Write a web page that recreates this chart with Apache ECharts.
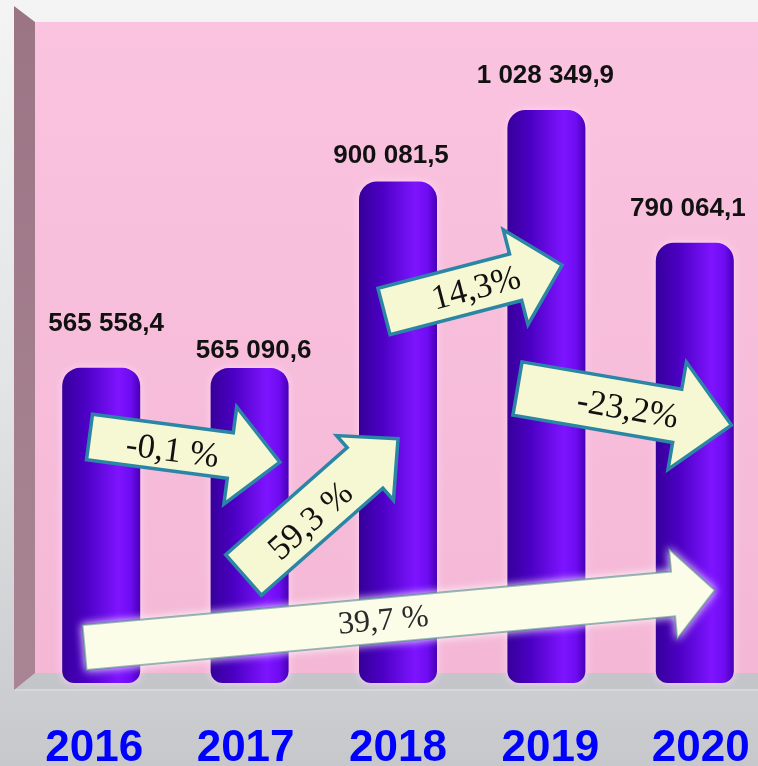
<!DOCTYPE html>
<html><head><meta charset="utf-8">
<script src="https://cdn.jsdelivr.net/npm/echarts@6/dist/echarts.min.js"></script>
<style>html,body{margin:0;padding:0;background:#eee;} #c{width:758px;height:766px;}</style>
</head><body><div id="c"></div>
<script>
// ---- data ----
const years = ['2016', '2017', '2018', '2019', '2020'];
const values = [565558.4, 565090.6, 900081.5, 1028349.9, 790064.1];
const valueLabels = ['565 558,4', '565 090,6', '900 081,5', '1 028 349,9', '790 064,1'];
const growthLabels = ['-0,1 %', '59,3 %', '14,3%', '-23,2%', '39,7 %'];

// ---- layout / style (not data) ----
const labelOffsets = [[5, -31], [4, -4], [-7, -13], [-1, -21], [-7, -21]];
const yearShift = [-7, -4, 0, 4, 6];
// arrows: tail centre, visual angle (deg, ccw), length, shaft width, head width, head length, text local pos
const arrows = [
  {x: 89.5, y: 437, a: -7.5, L: 192, w: 46, H: 98, h: 50, tx: 84, ty: 4, soft: false},
  {x: 243.5, y: 575, a: 41.4, L: 206, w: 54, H: 86, h: 44, tx: 86, ty: 5, soft: false},
  {x: 384, y: 311.5, a: 14.6, L: 184, w: 48, H: 98, h: 48, tx: 95, ty: 2, soft: false},
  {x: 517.5, y: 388.5, a: -9.7, L: 217, w: 54, H: 109, h: 55, tx: 112, ty: 3, soft: false},
  {x: 84.5, y: 647.5, a: 5.2, L: 633, w: 45, H: 90, h: 42, tx: 300, ty: 1, soft: true}
];

const chart = echarts.init(document.getElementById('c'), null, {renderer: 'canvas'});

const bgGraphics = [
  {type: 'rect', z: -10, shape: {x: 0, y: 0, width: 758, height: 766},
    style: {fill: {type: 'linear', x: 0, y: 0, x2: 0, y2: 1, colorStops: [
      {offset: 0, color: '#f4f4f4'}, {offset: 0.5, color: '#e2e4e5'}, {offset: 1, color: '#c6c8cb'}]}}},
  {type: 'rect', z: -9, shape: {x: 35, y: 22, width: 723, height: 651},
    style: {fill: {type: 'linear', x: 0, y: 0, x2: 0, y2: 1, colorStops: [
      {offset: 0, color: '#fac3df'}, {offset: 1, color: '#f4b8d6'}]}}},
  {type: 'rect', z: -9, shape: {x: 14, y: 673, width: 744, height: 17},
    style: {fill: '#c3c5c9'}},
  {type: 'line', z: -8, shape: {x1: 14, y1: 690, x2: 758, y2: 690},
    style: {stroke: '#d6d7da', lineWidth: 2}},
  {type: 'polygon', z: -8, shape: {points: [[14, 6], [35, 22], [35, 673], [14, 690]]},
    style: {fill: {type: 'linear', x: 0, y: 0, x2: 0, y2: 1, colorStops: [
      {offset: 0, color: '#9c7585'}, {offset: 1, color: '#a98593'}]}}}
];

function arrowGraphic(ar, i) {
  const hw = ar.w / 2, hh = ar.H / 2, b = ar.L - ar.h;
  const pts = [[0, -hw], [b, -hw], [b, -hh], [ar.L, 0], [b, hh], [b, hw], [0, hw]];
  return {
    type: 'group', x: ar.x, y: ar.y, rotation: ar.a * Math.PI / 180, z: 20,
    children: [
      {type: 'polygon', z: 20, shape: {points: pts},
        style: ar.soft ? {fill: '#fcfde8', stroke: 'rgba(70,130,130,0.55)', lineWidth: 2,
                          shadowColor: 'rgba(255,255,255,0.95)', shadowBlur: 8}
                       : {fill: '#f6f8d3', stroke: '#2b86a6', lineWidth: 3.5, lineJoin: 'miter'}},
      {type: 'text', z: 21, x: ar.tx, y: ar.ty,
        style: {text: growthLabels[i], fill: ar.soft ? '#2a2a2a' : '#111',
          font: (ar.soft ? '32px' : '35px') + ' "Liberation Serif", "Times New Roman", serif',
          align: 'center', verticalAlign: 'middle'}}
    ]
  };
}

const option = {
  animation: false,
  grid: {left: 27, width: 742, top: 70, height: 613, containLabel: false, outerBoundsMode: 'none'},
  xAxis: {
    type: 'category', data: years,
    axisLine: {show: false}, axisTick: {show: false}, splitLine: {show: false},
    axisLabel: {
      margin: 44, interval: 0,
      formatter: function (v, idx) { return '{s' + idx + '|' + v + '}'; },
      rich: (function () {
        const r = {};
        yearShift.forEach(function (s, i) {
          r['s' + i] = {color: '#0000ff', fontSize: 44, fontWeight: 'bold', lineHeight: 44,
            fontFamily: '"Liberation Sans", Arial, sans-serif',
            padding: s < 0 ? [0, -2 * s, 0, 0] : [0, 0, 0, 2 * s]};
        });
        return r;
      })()
    }
  },
  yAxis: {type: 'value', min: 0, max: 1100000, show: false, splitLine: {show: false}},
  series: [{
    type: 'bar', barWidth: 78, z: 5,
    data: values.map(function (v, i) {
      return {value: v, label: {offset: labelOffsets[i]}};
    }),
    itemStyle: {
      borderRadius: [18, 18, 12, 12],
      color: {type: 'linear', x: 0, y: 0, x2: 1, y2: 0, colorStops: [
        {offset: 0, color: '#36009a'}, {offset: 0.3, color: '#4c00c4'},
        {offset: 0.72, color: '#7e14ff'}, {offset: 0.88, color: '#6e0cf2'},
        {offset: 1, color: '#4800b4'}]},
      shadowColor: 'rgba(255,215,250,0.9)', shadowBlur: 8
    },
    label: {
      show: true, position: 'top', distance: 0,
      formatter: function (p) { return valueLabels[p.dataIndex]; },
      color: '#111', fontSize: 26, fontWeight: 'bold', lineHeight: 26,
      fontFamily: '"Liberation Sans", Arial, sans-serif'
    }
  }],
  graphic: bgGraphics.concat(arrows.map(arrowGraphic))
};
chart.setOption(option);
</script>
</body></html>
